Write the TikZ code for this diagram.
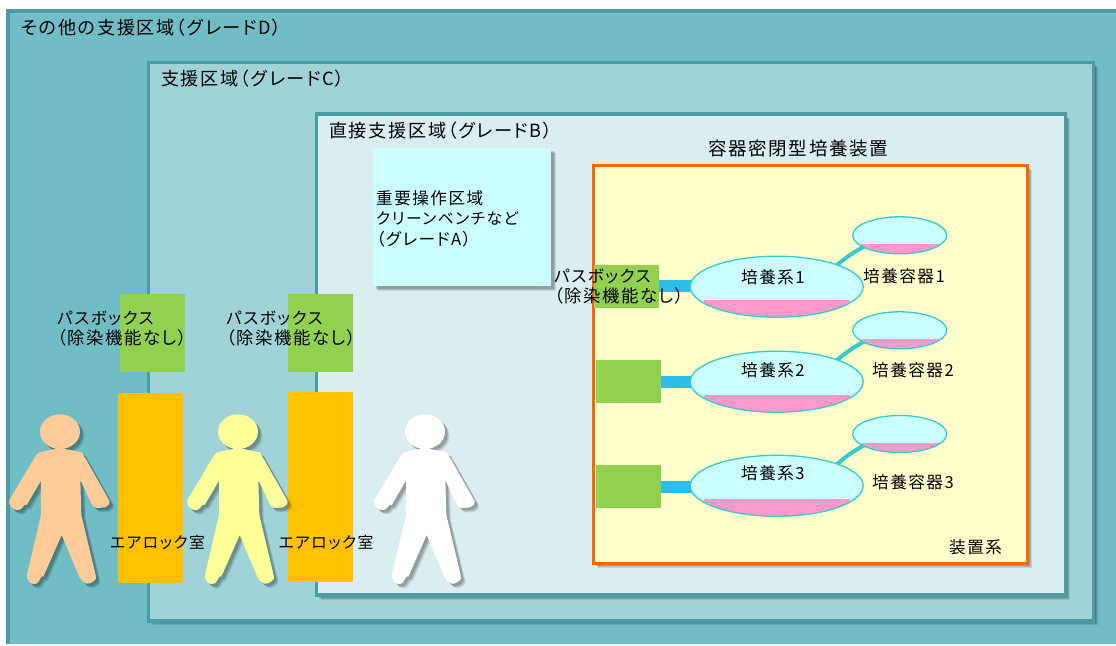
\documentclass[tikz,border=0pt]{standalone}
\usepackage{fontspec}
\setmainfont{Noto Sans CJK JP}[RawFeature=+palt,LetterSpace=9]
\usetikzlibrary{shapes.geometric,shadows}
\pgfdeclarelayer{base}
\pgfdeclarelayer{mid}
\pgfsetlayers{base,mid,main}
\definecolor{zoneline}{HTML}{4A9DA5}
\definecolor{zoneD}{HTML}{70BDC5}
\definecolor{zoneC}{HTML}{A0D3D7}
\definecolor{zoneB}{HTML}{DAEDEF}
\definecolor{aqua}{HTML}{CCFFFF}
\definecolor{cream}{HTML}{FFFFCC}
\definecolor{orangeln}{HTML}{FF6600}
\definecolor{greenbox}{HTML}{92D050}
\definecolor{amberbox}{HTML}{FFC000}
\definecolor{tealln}{HTML}{33CCCC}
\definecolor{bluelink}{HTML}{2DBDE8}
\definecolor{pinkc}{HTML}{FF99CC}
\definecolor{skin}{HTML}{FFCC99}
\definecolor{paley}{HTML}{FFFF99}
\tikzset{
  softshadow/.style={
    general shadow={shadow xshift=4.5pt,shadow yshift=-4.5pt,fill=black,opacity=.10},
    general shadow={shadow xshift=3.5pt,shadow yshift=-3.5pt,fill=black,opacity=.12},
    general shadow={shadow xshift=2.5pt,shadow yshift=-2.5pt,fill=black,opacity=.15}},
  zone/.style={draw=zoneline,line width=3.5pt,inner sep=0pt,softshadow},
  block/.style={inner sep=0pt,draw=none},
  lbl/.style={anchor=west,inner sep=0pt,font=\fontsize{18.15}{20}\selectfont,text=black},
  lbls/.style={anchor=west,inner sep=0pt,font=\fontsize{16.6}{20}\selectfont,text=black,align=left},
  lblnar/.style={lbls,font=\fontsize{15.8}{20}\selectfont},
  lblwide/.style={lbls,font=\fontsize{17.4}{20}\selectfont},
  bigell/.style={ellipse,draw=tealln,line width=1.3pt,fill=aqua,inner sep=0pt,minimum width=173pt,minimum height=61pt,
    path picture={\fill[pinkc] ([xshift=-73pt,yshift=-13.3pt]path picture bounding box.center) rectangle ([xshift=73pt,yshift=-40pt]path picture bounding box.center);}},
  smallell/.style={ellipse,draw=tealln,line width=1.3pt,fill=aqua,inner sep=0pt,minimum width=94pt,minimum height=37pt,
    path picture={\fill[pinkc] ([xshift=-39pt,yshift=-8.8pt]path picture bounding box.center) rectangle ([xshift=39pt,yshift=-30pt]path picture bounding box.center);}},
  bluelk/.style={bluelink,line width=12pt},
  teallk/.style={tealln,line width=4pt,shorten <=-3pt,shorten >=-3pt},
}
\newcommand{\personpath}{
  (180,204) -- (240,216) to[out=10,in=140] (258,238) -- (328,362)
  to[out=-70,in=20] (315,382) -- (292,384) to[out=190,in=-60] (275,372) -- (241,300) -- (244,405)
  -- (288,590) to[out=-80,in=30] (270,610) to[out=200,in=-60] (238,590) -- (185,465) -- (130,590)
  to[out=120,in=-10] (105,612) to[out=190,in=-100] (81,585) -- (123,405) -- (123,302) -- (80,375)
  to[out=120,in=-10] (55,390) to[out=190,in=-110] (28,360) -- (100,240) to[out=60,in=190] (125,215) -- cycle
  (180,155) ellipse [x radius=60,y radius=52]
}
\newcommand{\person}[2]{%
  \begin{scope}[shift={(#1,380)},scale=1/3]
    \fill[black,opacity=.10] [shift={(13.5,13.5)}] \personpath;
    \fill[black,opacity=.12] [shift={(10.5,10.5)}] \personpath;
    \fill[black,opacity=.15] [shift={(7.5,7.5)}] \personpath;
    \fill[#2] \personpath;
  \end{scope}}
\begin{document}
\begin{tikzpicture}[x=1pt,y=-1pt]
\useasboundingbox (0,0) rectangle (1116,645);
\begin{pgfonlayer}{base}
\fill[white] (0,0) rectangle (1116,645);
% zones
\fill[zoneD] (8,11) rectangle (1116,644);
\draw[zoneline,line width=3.5pt] (8,644) -- (8,11) -- (1116,11);
\node[zone,fill=zoneC,minimum width=945.4pt,minimum height=558.5pt] (zc) at (621,341.55) {};
\node[zone,fill=zoneB,minimum width=748.6pt,minimum height=481pt] (zb) at (691,354.5) {};
\node[block,fill=aqua,softshadow,minimum width=178pt,minimum height=138pt] (za) at (462,217) {};
\node[draw=orangeln,line width=3pt,fill=cream,inner sep=0pt,softshadow,minimum width=434.4pt,minimum height=398.3pt] (dev) at (810.6,364.2) {};
% pass boxes and airlocks
\node[block,fill=greenbox,minimum width=65pt,minimum height=78pt] (p1) at (152.5,333) {};
\node[block,fill=greenbox,minimum width=65pt,minimum height=78pt] (p2) at (320.5,333) {};
\node[block,fill=amberbox,minimum width=65pt,minimum height=190pt] (a1) at (150.5,488) {};
\node[block,fill=amberbox,minimum width=65pt,minimum height=190pt] (a2) at (320.5,487) {};
\person{0}{skin}
\person{178}{paley}
\person{365}{white}
% equipment
\node[block,fill=greenbox,minimum width=65pt,minimum height=43pt] (g1) at (626.7,286.3) {};
\node[block,fill=greenbox,minimum width=65pt,minimum height=43pt] (g2) at (628.5,381.5) {};
\node[block,fill=greenbox,minimum width=65pt,minimum height=43pt] (g3) at (628.5,486.5) {};
\end{pgfonlayer}
\node[bigell] (c1) at (776.7,286.7) {};
\node[bigell] (c2) at (776.7,381.7) {};
\node[bigell] (c3) at (776.7,485.8) {};
\node[smallell] (s1) at (899.7,235.3) {};
\node[smallell] (s2) at (899.7,330.3) {};
\node[smallell] (s3) at (899.7,434) {};
\begin{pgfonlayer}{mid}
\draw[bluelk] (g1.east) -- (g1.east -| c1.center);
\draw[bluelk] (g2.east) -- (g2.east -| c2.center);
\draw[bluelk] (g3.east) -- (g3.east -| c3.center);
\draw[teallk] (c1.20) to[bend left=6] (s1.198);
\draw[teallk] (c2.20) to[bend left=6] (s2.198);
\draw[teallk] (c3.20) to[bend left=6] (s3.198);
\end{pgfonlayer}
% text
\node[lbl] (td) at (21,28) {その他の支援区域（グレードD）};
\node[lbl] (tc) at (161,79) {支援区域（グレードC）};
\node[lbl] (tb) at (329,131) {直接支援区域（グレードB）};
\node[lbl,font=\fontsize{18.5}{20}\selectfont] (tdev) at (708,148) {容器密閉型培養装置};
\node[lbls] (ta1) at (376,198) {重要操作区域};
\node[lblnar] (ta2) at (376,218) {クリーンベンチなど};
\node[lbls] (ta3) at (376,239) {（グレードA）};
\node[lbls] (tp1a) at (57,318) {パスボックス};
\node[lblwide] (tp1b) at (57,338) {（除染機能なし）};
\node[lbls] (tp2a) at (226,318) {パスボックス};
\node[lblwide] (tp2b) at (226,338) {（除染機能なし）};
\node[lbls] (tp3a) at (554,276) {パスボックス};
\node[lblwide] (tp3b) at (554,296) {（除染機能なし）};
\node[lblnar] (tl1) at (110,542) {エアロック室};
\node[lblnar] (tl2) at (278.5,542) {エアロック室};
\node[lbls] (tc1) at (741,277) {培養系1};
\node[lbls] (tc2) at (741,370) {培養系2};
\node[lbls] (tc3) at (741,473) {培養系3};
\node[lbls] (ts1) at (863,276) {培養容器1};
\node[lbls] (ts2) at (872,370) {培養容器2};
\node[lbls] (ts3) at (872,482) {培養容器3};
\node[lbls] (tsys) at (949,547) {装置系};
\end{tikzpicture}
\end{document}
